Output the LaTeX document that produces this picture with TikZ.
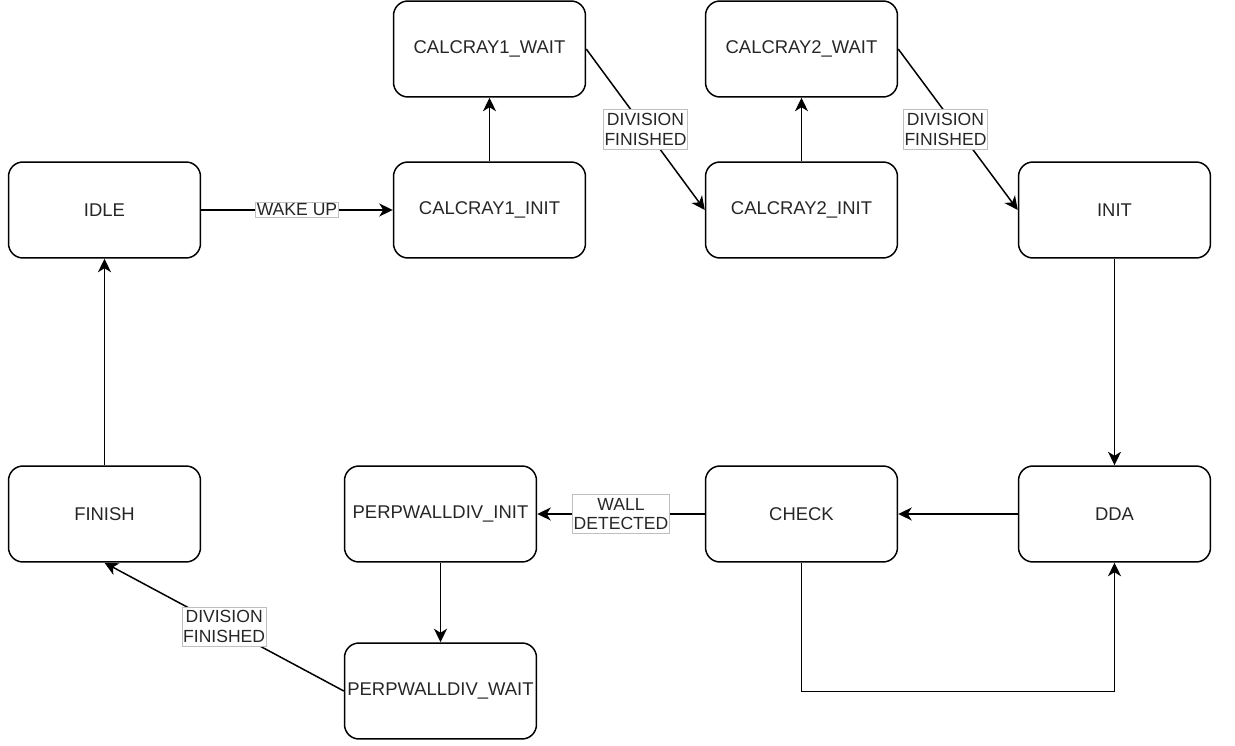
\documentclass[tikz,border=0pt]{standalone}
\usepackage{fontspec}
\setmainfont{Liberation Sans}
\usepackage{tikz}
\usetikzlibrary{arrows.meta}

\begin{document}
\begin{tikzpicture}[x=0.02cm, y=-0.02cm,
  state/.style={draw, line width=0.85pt, rounded corners=0.29cm,
    minimum width=3.84cm, minimum height=1.92cm, inner sep=0pt,
    text=black!85, font=\fontsize{10.5}{12.6}\selectfont},
  lbl/.style={fill=white, draw=black!25, line width=0.5pt, align=center,
    inner xsep=0.5pt, inner ysep=2pt, text=black!85,
    font=\fontsize{10}{11.3}\selectfont},
  arr/.style={line width=0.85pt, -{Stealth[length=0.27cm, width=0.26cm, inset=0.08cm]}}]
  \useasboundingbox (0,0) rectangle (1235,746);
  % States
  \node[state] (idle) at (104.5,210) {IDLE};
  \node[state] (cr1init) at (489.5,210) {CALCRAY1\_INIT};
  \node[state] (cr1wait) at (489.5,49) {CALCRAY1\_WAIT};
  \node[state] (cr2wait) at (801.5,49) {CALCRAY2\_WAIT};
  \node[state] (cr2init) at (801.5,210) {CALCRAY2\_INIT};
  \node[state] (init) at (1114.5,210) {INIT};
  \node[state] (dda) at (1114.5,514) {DDA};
  \node[state] (check) at (801.5,514) {CHECK};
  \node[state] (pwinit) at (440.5,514) {PERPWALLDIV\_INIT};
  \node[state] (pwwait) at (440.5,691) {PERPWALLDIV\_WAIT};
  \node[state] (finish) at (104.5,514) {FINISH};
  % Transitions
  \draw[arr] (idle) -- node[lbl, inner ysep=1pt] {WAKE UP} (cr1init);
  \draw[arr] (cr1init) -- (cr1wait);
  \draw[arr] (cr1wait.east) -- node[lbl] {DIVISION\\FINISHED} (cr2init.west);
  \draw[arr] (cr2init) -- (cr2wait);
  \draw[arr] (cr2wait.east) -- node[lbl, xshift=-0.25cm] {DIVISION\\FINISHED} (init.west);
  \draw[arr] (init) -- (dda);
  \draw[arr] (dda) -- (check);
  \draw[arr] (check) -- node[lbl] {WALL\\DETECTED} (pwinit);
  \draw[arr] (pwinit) -- (pwwait);
  \draw[arr] (pwwait.west) -- node[lbl] {DIVISION\\FINISHED} (finish.south);
  \draw[arr] (finish) -- (idle);
  % Loop back
  \draw[arr] (check.south) -- ++(0,129) -| (dda.south);
\end{tikzpicture}
\end{document}
